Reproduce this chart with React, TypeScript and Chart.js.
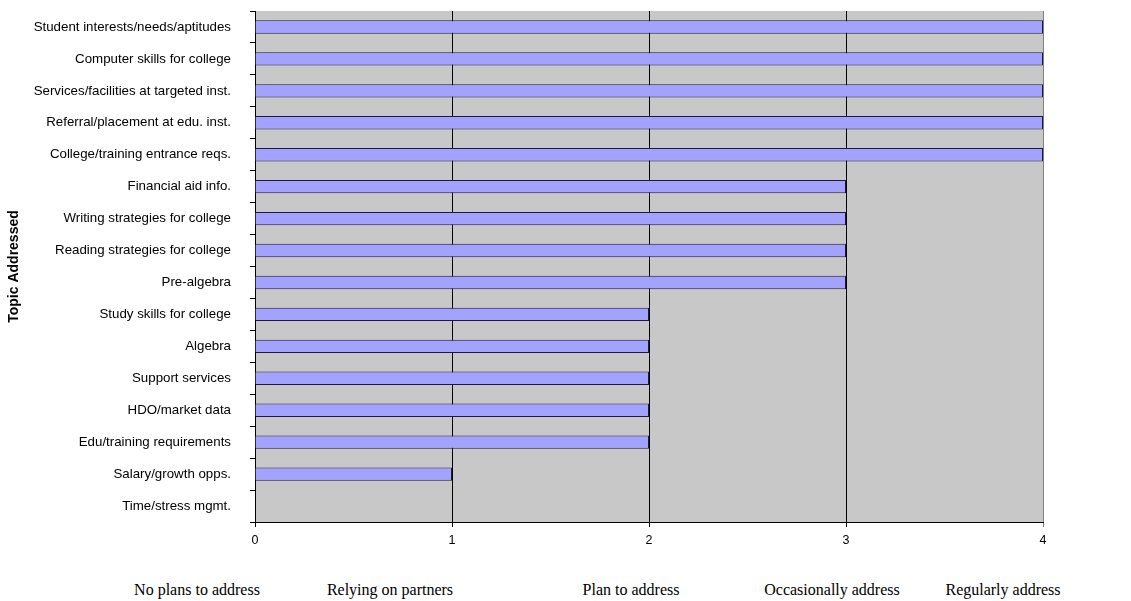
import React, { useEffect, useRef } from "react";
import { Chart, registerables } from "chart.js";

Chart.register(...registerables);

const topics = [
  "Student interests/needs/aptitudes",
  "Computer skills for college",
  "Services/facilities at targeted inst.",
  "Referral/placement at edu. inst.",
  "College/training entrance reqs.",
  "Financial aid info.",
  "Writing strategies for college",
  "Reading strategies for college",
  "Pre-algebra",
  "Study skills for college",
  "Algebra",
  "Support services",
  "HDO/market data",
  "Edu/training requirements",
  "Salary/growth opps.",
  "Time/stress mgmt.",
];

const levels = [4, 4, 4, 4, 4, 3, 3, 3, 3, 2, 2, 2, 2, 2, 1, 0];

const xTicks = [0, 1, 2, 3, 4];

const scaleLabels = [
  "No plans to address",
  "Relying on partners",
  "Plan to address",
  "Occasionally address",
  "Regularly address",
];
const scaleLabelCenters = [197, 390, 631, 832, 1003];

const bgPlugin = {
  id: "plotBg",
  beforeDraw(chart: any) {
    const { ctx, chartArea } = chart;
    ctx.save();
    ctx.fillStyle = "#c8c8c8";
    ctx.fillRect(chartArea.left, chartArea.top, chartArea.right - chartArea.left, chartArea.bottom - chartArea.top);
    ctx.restore();
  },
};

export default function App() {
  const ref = useRef<HTMLCanvasElement>(null);
  useEffect(() => {
    if (!ref.current) return;
    const chart = new Chart(ref.current, {
      type: "bar",
      data: {
        labels: topics,
        datasets: [
          {
            data: levels,
            backgroundColor: "#a3a3ff",
            borderColor: "#1a1a40",
            borderWidth: 1,
            borderSkipped: "start",
            categoryPercentage: 1,
            barPercentage: 0.42,
          },
        ],
      },
      options: {
        indexAxis: "y",
        animation: false,
        responsive: false,
        maintainAspectRatio: false,
        layout: { padding: { left: 0, top: 11, right: 88, bottom: 0 } },
        plugins: { legend: { display: false }, tooltip: { enabled: false } },
        scales: {
          x: {
            min: 0,
            max: 4,
            afterBuildTicks: (s: any) => {
              s.ticks = xTicks.map((v) => ({ value: v }));
            },
            afterFit: (s: any) => {
              s.height = 38;
              s.paddingLeft = 0;
              s.paddingRight = 0;
            },
            ticks: {
              color: "#000",
              font: { family: "Liberation Sans, Arial, sans-serif", size: 12.5 },
              padding: 6,
              maxRotation: 0,
            },
            grid: {
              color: (c: any) => (c.tick && c.tick.value === 4 ? "#808080" : "#000"),
              lineWidth: 1,
              tickLength: 5,
              drawTicks: true,
            },
            border: { display: true, color: "#000", width: 1 },
          },
          y: {
            afterFit: (s: any) => {
              s.width = 255;
              s.paddingTop = 0;
              s.paddingBottom = 0;
            },
            ticks: {
              color: "#000",
              font: { family: "Liberation Sans, Arial, sans-serif", size: 13.3 },
              padding: 19,
              autoSkip: false,
            },
            grid: {
              offset: true,
              drawOnChartArea: false,
              color: "#000",
              tickLength: 5,
            },
            border: { display: true, color: "#000", width: 1 },
            title: {
              display: true,
              text: "Topic Addressed",
              color: "#000",
              font: { family: "Liberation Sans, Arial, sans-serif", size: 14, weight: "bold" },
              padding: { top: 6, bottom: 0 },
            },
          },
        },
      },
      plugins: [bgPlugin],
    });
    return () => chart.destroy();
  }, []);

  return (
    <div style={{ position: "absolute", left: 0, top: 0, width: 1131, height: 601, background: "#fff" }}>
      <canvas ref={ref} width={1131} height={560} style={{ position: "absolute", left: 0, top: 0 }} />
      {scaleLabels.map((t, i) => (
        <span
          key={t}
          style={{
            position: "absolute",
            left: scaleLabelCenters[i],
            top: 581,
            transform: "translateX(-50%)",
            whiteSpace: "nowrap",
            fontFamily: "'Liberation Serif', 'Times New Roman', serif",
            fontSize: 16,
            lineHeight: "18px",
            color: "#000",
          }}
        >
          {t}
        </span>
      ))}
    </div>
  );
}
